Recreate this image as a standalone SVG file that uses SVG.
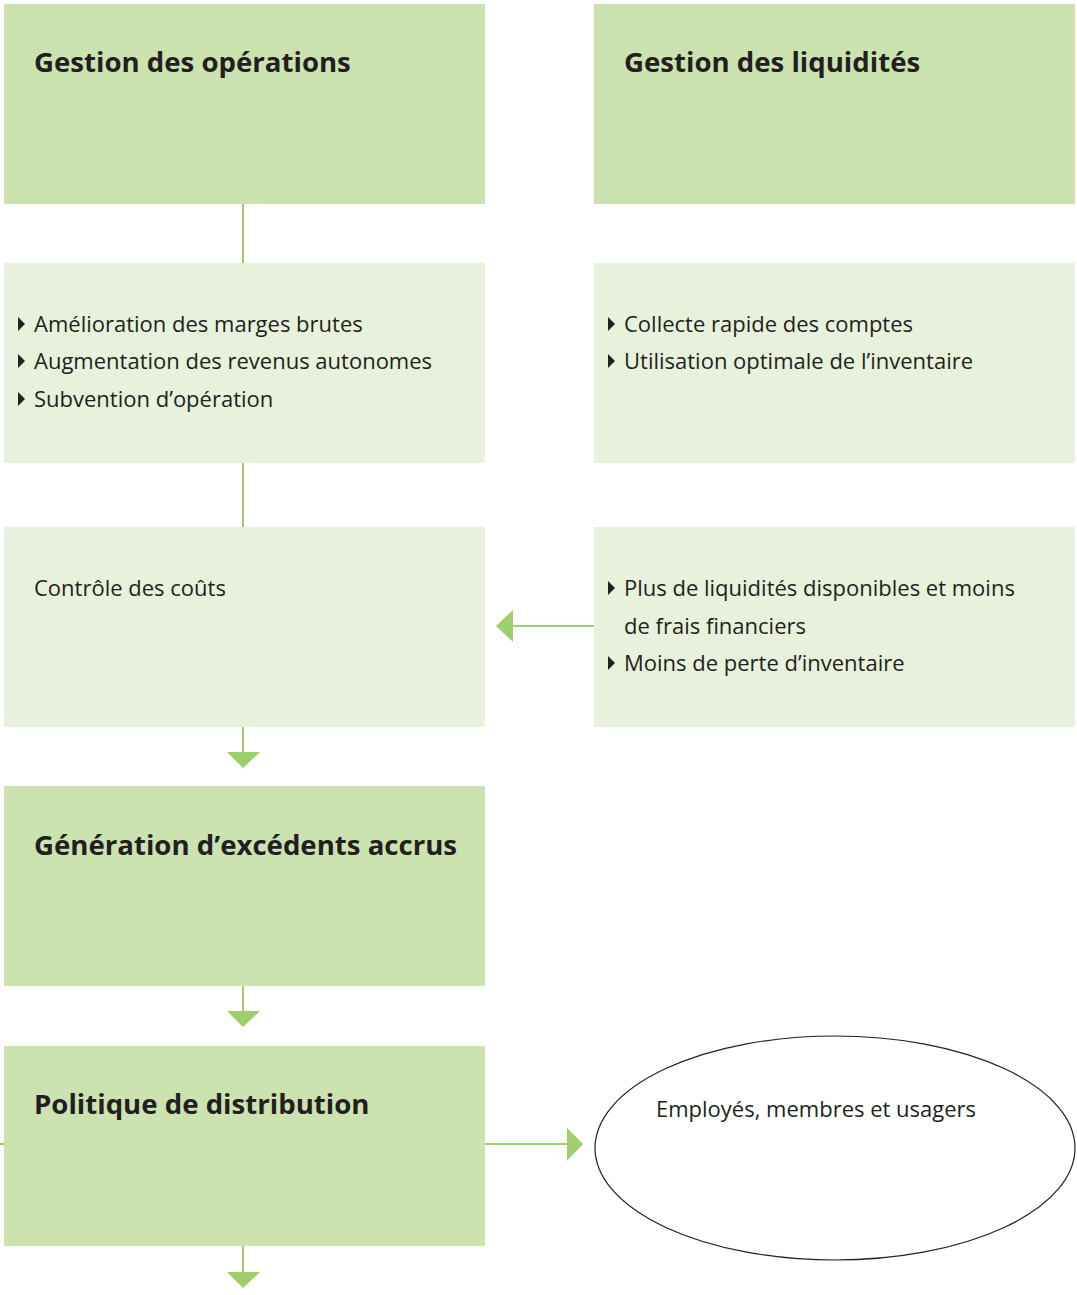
<svg xmlns="http://www.w3.org/2000/svg" width="1077" height="1295" viewBox="0 0 1077 1295">
<style>
.dark{fill:#cce3b0}
.light{fill:#e8f1dc}
.t{font-family:"Open Sans","Noto Sans","Liberation Sans",sans-serif;font-weight:bold;font-size:27.6px;fill:#231f20}
.b{font-family:"Open Sans","Noto Sans","Liberation Sans",sans-serif;font-size:22px;fill:#231f20}
.bul{fill:#231f20}
.c{stroke:#9dd06a;stroke-width:2;fill:none}
.ah{fill:#9dd06a}
</style>
<rect width="1077" height="1295" fill="#ffffff"/>
<g id="connectors">
<line class="c" x1="243" y1="204" x2="243" y2="263"/>
<line class="c" x1="243" y1="463" x2="243" y2="527"/>
<line class="c" x1="594" y1="626" x2="510" y2="626"/>
<polygon class="ah" points="496,626 513,610 513,642"/>
<line class="c" x1="243" y1="727" x2="243" y2="754"/>
<polygon class="ah" points="227,752 260,752 243,768"/>
<line class="c" x1="243" y1="986" x2="243" y2="1012"/>
<polygon class="ah" points="227,1011 260,1011 243,1027"/>
<line class="c" x1="0" y1="1144" x2="4" y2="1144"/>
<line class="c" x1="485" y1="1144" x2="570" y2="1144"/>
<polygon class="ah" points="583,1144 567,1128 567,1161"/>
<line class="c" x1="243" y1="1246" x2="243" y2="1274"/>
<polygon class="ah" points="227,1272 260,1272 243,1288"/>
</g>
<g id="gestion-operations">
<rect class="dark" x="4" y="4" width="481" height="200"/>
<text class="t" x="34" y="72">Gestion des opérations</text>
</g>
<g id="gestion-liquidites">
<rect class="dark" x="594" y="4" width="481" height="200"/>
<text class="t" x="624" y="72">Gestion des liquidités</text>
</g>
<g id="operations-list">
<rect class="light" x="4" y="263" width="481" height="200"/>
<polygon class="bul" points="18,317 25,324 18,331"/>
<text class="b" x="34" y="332">Amélioration des marges brutes</text>
<polygon class="bul" points="18,354 25,361 18,368"/>
<text class="b" x="34" y="369">Augmentation des revenus autonomes</text>
<polygon class="bul" points="18,392 25,399 18,406"/>
<text class="b" x="34" y="407">Subvention d’opération</text>
</g>
<g id="liquidites-list">
<rect class="light" x="594" y="263" width="481" height="200"/>
<polygon class="bul" points="608,317 615,324 608,331"/>
<text class="b" x="624" y="332">Collecte rapide des comptes</text>
<polygon class="bul" points="608,354 615,361 608,368"/>
<text class="b" x="624" y="369">Utilisation optimale de l’inventaire</text>
</g>
<g id="controle-couts">
<rect class="light" x="4" y="527" width="481" height="200"/>
<text class="b" x="34" y="596">Contrôle des coûts</text>
</g>
<g id="liquidites-benefits">
<rect class="light" x="594" y="527" width="481" height="200"/>
<polygon class="bul" points="608,581 615,588 608,595"/>
<text class="b" x="624" y="596">Plus de liquidités disponibles et moins</text>
<text class="b" x="624" y="634">de frais financiers</text>
<polygon class="bul" points="608,656 615,663 608,670"/>
<text class="b" x="624" y="671">Moins de perte d’inventaire</text>
</g>
<g id="generation-excedents">
<rect class="dark" x="4" y="786" width="481" height="200"/>
<text class="t" x="34" y="855">Génération d’excédents accrus</text>
</g>
<g id="politique-distribution">
<rect class="dark" x="4" y="1046" width="481" height="200"/>
<text class="t" x="34" y="1114">Politique de distribution</text>
</g>
<g id="employes">
<ellipse cx="835" cy="1148" rx="240" ry="112" fill="#ffffff" stroke="#231f20" stroke-width="1.2"/>
<text class="b" x="656" y="1117">Employés, membres et usagers</text>
</g>
</svg>
